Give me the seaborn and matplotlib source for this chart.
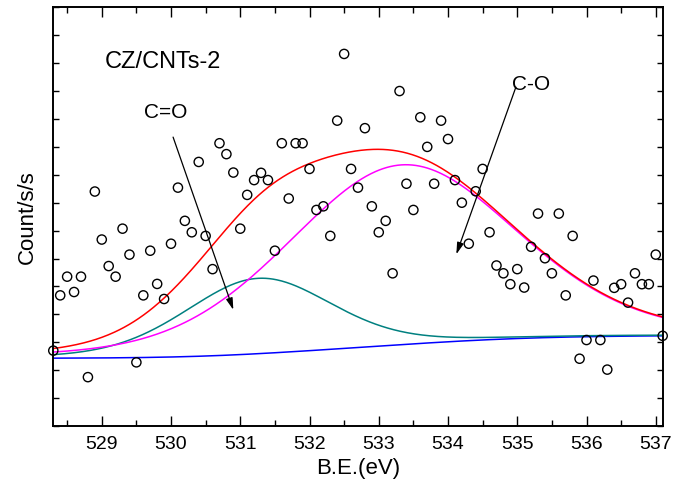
import numpy as np
import pandas as pd
import seaborn as sns
import matplotlib.pyplot as plt
from matplotlib.ticker import MultipleLocator

# O 1s raw counts (arbitrary units), one point every 0.1 eV from 528.3 eV
counts = [2.70, 4.68, 5.35, 4.80, 5.35, 1.75, 8.40, 6.68, 5.73, 5.35,
          7.07, 6.14, 2.28, 4.68, 6.28, 5.09, 4.55, 6.53, 8.54, 7.35,
          6.94, 9.46, 6.81, 5.62, 10.13, 9.74, 9.08, 7.07, 8.28, 8.81,
          9.07, 8.81, 6.28, 10.13, 8.15, 10.13, 10.13, 9.21, 7.74, 7.87,
          6.81, 10.94, 13.33, 9.21, 8.54, 10.67, 7.87, 6.94, 7.35, 5.47,
          12.00, 8.68, 7.74, 11.06, 10.00, 8.68, 10.94, 10.28, 8.81, 8.00,
          6.53, 8.41, 9.21, 6.94, 5.75, 5.47, 5.08, 5.62, 4.96, 6.42,
          7.61, 6.01, 5.47, 7.61, 4.68, 6.81, 2.41, 3.08, 5.21, 3.08,
          2.02, 4.95, 5.08, 4.42, 5.47, 5.08, 5.08, 6.14, 3.23]
be_start = 528.3
be_step = 0.1

# fitted components (pseudo-Voigt)
peak_names = ['C=O', 'C-O']
peak_centers = [531.26, 533.33]
peak_heights = [2.70, 6.44]
peak_fwhm = [2.5, 3.9]
peak_lorentz = [0.2, 0.2]
# Shirley background end levels
bg_low = 2.43
bg_high = 3.23

be = np.round(be_start + be_step * np.arange(len(counts)), 1)
raw = pd.DataFrame({'be': be, 'counts': counts})


def pseudo_voigt(x, c, h, w, eta):
    d2 = (x - c) ** 2
    g = np.exp(-4 * np.log(2) * d2 / w ** 2)
    lo = 1 / (1 + 4 * d2 / w ** 2)
    return h * ((1 - eta) * g + eta * lo)


xf = np.linspace(be[0], be[-1], 500)
comps = [pseudo_voigt(xf, c, h, w, e) for c, h, w, e in
         zip(peak_centers, peak_heights, peak_fwhm, peak_lorentz)]
total = comps[0] + comps[1]
bg = bg_low + (bg_high - bg_low) * np.cumsum(total) / np.sum(total)

fit = pd.DataFrame({'be': xf, 'bg': bg, 'co_d': bg + comps[0],
                    'co_s': bg + comps[1], 'sum': bg + total})

sns.set_style('ticks')
plt.rcParams['font.family'] = ['Liberation Sans', 'DejaVu Sans']
plt.rcParams['text.color'] = 'black'
plt.rcParams['axes.labelcolor'] = 'black'
plt.rcParams['xtick.color'] = 'black'
plt.rcParams['ytick.color'] = 'black'

fig = plt.figure(figsize=(6.78, 4.91), dpi=100)
ax = fig.add_axes([0.0786, 0.1324, 0.8988, 0.8527])

sns.lineplot(x='be', y='bg', data=fit, ax=ax, color='#0000FF', lw=1.1)
sns.lineplot(x='be', y='co_d', data=fit, ax=ax, color='#008080', lw=1.1)
sns.lineplot(x='be', y='co_s', data=fit, ax=ax, color='#FF00FF', lw=1.1)
sns.lineplot(x='be', y='sum', data=fit, ax=ax, color='#FF0000', lw=1.1)
sns.scatterplot(x='be', y='counts', data=raw, ax=ax, marker='o', s=44,
                facecolor='none', edgecolor='black', linewidth=1.0,
                zorder=5, clip_on=False)

ax.set_xlim(528.3, 537.1)
ax.set_ylim(0, 15)
ax.xaxis.set_major_locator(MultipleLocator(1))
ax.xaxis.set_minor_locator(MultipleLocator(0.5))
ax.yaxis.set_major_locator(MultipleLocator(1))
ax.tick_params(axis='both', which='both', direction='in',
               top=True, right=True, width=1.0, colors='black')
ax.tick_params(axis='x', which='major', length=7, labelsize=14, pad=7)
ax.tick_params(axis='x', which='minor', length=4)
ax.tick_params(axis='y', which='major', length=4, labelleft=False)
for sp in ax.spines.values():
    sp.set_linewidth(1.4)
    sp.set_color('black')

ax.set_xlabel('B.E.(eV)', fontsize=16, labelpad=4)
ax.set_ylabel('Count/s/s', fontsize=16, labelpad=11)

ax.text(529.89, 13.05, 'CZ/CNTs-2', fontsize=17, ha='center', va='center')
ax.text(529.92, 11.22, peak_names[0], fontsize=15, ha='center', va='center')
ax.text(535.20, 12.22, peak_names[1], fontsize=15, ha='center', va='center')
arrow = dict(arrowstyle='-|>,head_length=0.7,head_width=0.2',
             color='black', lw=0.9, shrinkA=0, shrinkB=0)
ax.annotate('', xy=(530.90, 4.16), xytext=(530.03, 10.35), arrowprops=arrow)
ax.annotate('', xy=(534.12, 6.15), xytext=(534.98, 12.14), arrowprops=arrow)

fig.savefig('out.png', dpi=100)
